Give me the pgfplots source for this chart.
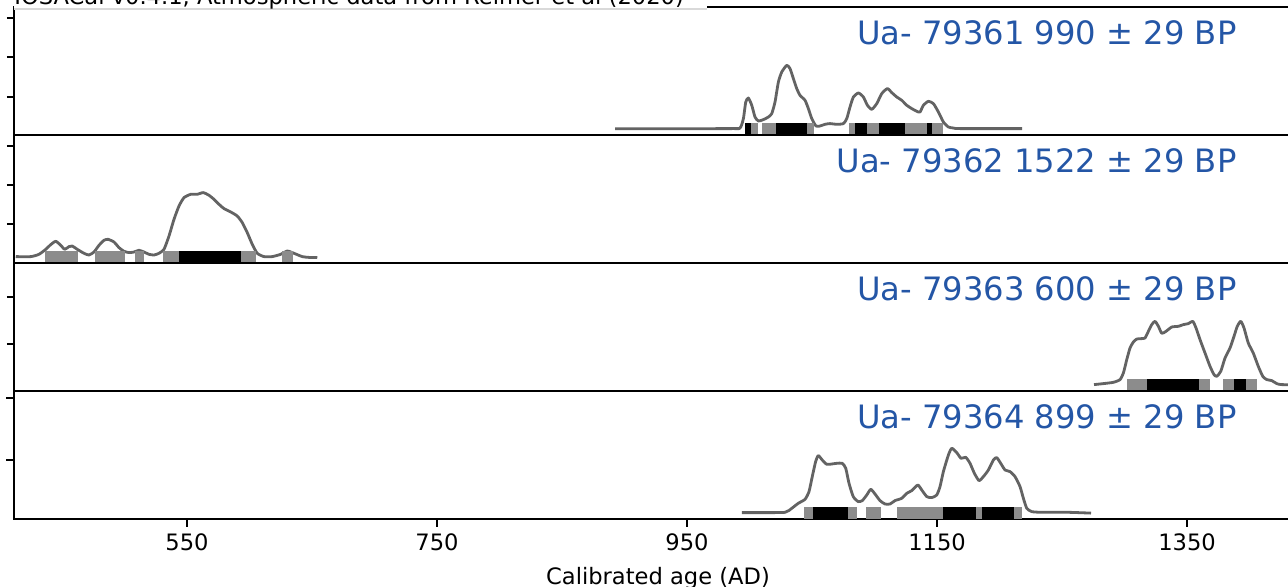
\documentclass[border=0pt]{standalone}
\usepackage{pgfplots}
\pgfplotsset{compat=1.18}
\usepackage{fontspec}
\setmainfont{DejaVu Sans}
\definecolor{curvegray}{RGB}{99,99,99}
\definecolor{rnggray}{RGB}{140,140,140}
\definecolor{labblue}{RGB}{36,86,166}
\newcommand{\rng}[3]{\addplot[fill=#3, draw=none, forget plot] coordinates {(#1,12) (#2,12)} \closedcycle;}
\newcommand{\panellabel}[1]{\node[anchor=base east, inner sep=0pt, text=labblue, font=\fontsize{16.1}{19}\selectfont] at (axis description cs:0.9495,0.711) {#1};}
\pgfplotsset{
  panel/.style={
    scale only axis, width=644pt, height=64pt,
    xmin=411.6, xmax=1442, ymin=0, ymax=128,
    axis line style={line width=0.9pt},
    tick align=outside,
    major tick length=3.5pt,
    tick style={line width=0.9pt, black},
    ytick pos=left, xtick pos=bottom,
    yticklabels={}, xtick=\empty,
    clip=true,
  },
  curve/.style={curvegray, line width=1.4pt, smooth, tension=0.35, line join=round, no marks},
}
\begin{document}
\begin{tikzpicture}
% ---------------- panel 1
\begin{axis}[panel, at={(7pt,225.35pt)}, anchor=south west, ytick={38.6,78,117}]
\addplot[curve] table {
892.4 6.5
984.4 6.7
992.4 7.3
995.1 16.7
997.0 33.3
999.1 37.3
1001.8 30
1004.4 18.3
1007.1 14.3
1011.1 15.7
1015.1 18.3
1017.8 21.7
1020.4 33.3
1023.1 53.3
1025.8 63.3
1029.8 70
1032.4 66.7
1035.1 56.7
1037.8 46.7
1040.4 40
1044.4 35
1047.1 26.7
1049.8 16.7
1053.2 9.3
1056.4 9.3
1060.4 11
1064.4 11.7
1069.8 11
1075.1 11.7
1077.8 16.7
1080.4 28.3
1083.1 38.3
1087.1 42.3
1091.1 38.3
1094.3 30
1097.8 26
1101.8 31.7
1105.8 41.7
1110.3 46.7
1113.8 42.7
1117.8 38.3
1121.8 35
1125.8 30
1129.8 26.7
1133.8 24
1136.4 23.3
1139.1 30
1143.1 34
1147.1 31.7
1151.1 23.3
1155.1 13.3
1159.1 8.3
1163.1 7.3
1168.4 6.7
1218.0 6.7
};
\rng{996.2}{1006.8}{rnggray}
\rng{1009.6}{1051.4}{rnggray}
\rng{1079.4}{1154.9}{rnggray}
\rng{996.2}{1000.8}{black}
\rng{1020.8}{1046.1}{black}
\rng{1084.0}{1093.8}{black}
\rng{1103.3}{1124.4}{black}
\rng{1141.9}{1146.2}{black}
\panellabel{Ua- 79361 990 ± 29 BP}
\end{axis}
% ---------------- panel 2
\begin{axis}[panel, at={(7pt,161.35pt)}, anchor=south west, ytick={39,78.3,117.6}]
\addplot[curve] table {
413.0 6.7
425.0 6.7
431.6 9
437.0 14
441.0 18.7
445.0 22
449.0 18
452.2 14
455.6 16.7
458.2 17.3
462.2 14
467.6 10
471.6 8.3
475.6 11.3
479.6 18
483.6 23
486.8 24
491.6 21.3
495.6 15.7
499.6 12
503.6 10.7
507.6 11.3
511.6 13
515.6 11.3
519.6 9
523.6 8.3
527.6 10
531.6 14
535.6 27.3
539.6 44
543.6 57.3
547.6 65.7
553.0 69
558.2 69
563.0 70.7
567.6 68
571.6 64
575.6 59
579.6 54.7
585.0 51.3
590.2 47.3
594.2 40.7
598.2 30.7
602.2 19
606.2 10
611.6 6.7
618.2 6.7
625.0 9
630.2 12.3
635.6 10
642.2 6.7
647.6 5.9
654.2 5.7
};
\rng{436.2}{462.8}{rnggray}
\rng{476.4}{500.2}{rnggray}
\rng{508.2}{515.6}{rnggray}
\rng{530.8}{605.0}{rnggray}
\rng{626.2}{634.8}{rnggray}
\rng{543.6}{593.0}{black}
\panellabel{Ua- 79362 1522 ± 29 BP}
\end{axis}
% ---------------- panel 3
\begin{axis}[panel, at={(7pt,97.35pt)}, anchor=south west, ytick={47.3,94.3}]
\addplot[curve] table {
1275.6 6.7
1283.1 7.7
1291.1 9
1296.4 11.7
1299.1 18.3
1301.8 31.7
1304.4 43.3
1307.1 49.3
1309.8 52.3
1313.8 52.7
1316.4 53.3
1319.1 60
1321.8 66.7
1324.4 70
1327.1 65
1329.8 58
1333.2 60
1337.8 64.3
1343.1 65
1347.1 66.7
1351.1 67.7
1354.6 70
1357.2 63.3
1360.4 51.7
1364.4 38.3
1368.4 25
1371.6 16.7
1373.8 15
1377.0 20
1380.4 33.3
1384.4 43.3
1387.6 55
1390.2 65
1393.0 70
1395.6 63.3
1399.0 48.3
1403.0 38.3
1407.0 25
1410.6 15
1413.8 11.7
1417.8 10.7
1421.8 7.7
1425.8 6.7
1445.0 6.5
};
\rng{1301.8}{1368.4}{rnggray}
\rng{1379.0}{1405.6}{rnggray}
\rng{1318.2}{1359.8}{black}
\rng{1387.6}{1396.8}{black}
\panellabel{Ua- 79363 600 ± 29 BP}
\end{axis}
% ---------------- panel 4
\begin{axis}[panel, at={(7pt,33.35pt)}, anchor=south west, ytick={59.3,121.3},
  xtick={550,750,950,1150,1350}, xticklabels={550,750,950,1150,1350},
  major tick length=3.8pt,
  ticklabel style={font=\fontsize{11.3}{13}\selectfont},
  xlabel={Calibrated age (AD)},
  xlabel style={font=\fontsize{11.3}{13}\selectfont, at={(axis description cs:0.5,0)}, anchor=base, yshift=-32.6pt}]
\addplot[curve] table {
993.8 6.7
1009.8 6.7
1028.4 7
1033.8 11
1039.0 16
1044.4 20
1047.6 27.7
1050.2 42.7
1052.9 57.7
1055.0 63.7
1058.2 59.3
1061.8 55
1065.8 55.3
1069.8 56
1074.2 56
1077.0 51
1079.6 36
1083.0 22.7
1087.0 17.7
1090.2 18.7
1093.8 24.3
1097.0 30
1100.4 25.3
1104.4 18.7
1108.4 15.3
1112.4 15.3
1116.4 18.7
1121.8 21
1125.8 26
1129.8 28.7
1134.6 34.3
1137.8 29.3
1141.8 22.7
1145.8 21.7
1149.8 24.3
1152.4 32.7
1155.1 47.7
1159.1 64.3
1161.8 71
1165.8 66.7
1169.2 61
1173.0 62
1176.4 56
1179.9 46
1183.6 38.7
1187.1 42.7
1191.1 49.3
1195.1 59.3
1197.8 61.7
1201.8 54.3
1204.4 49.3
1208.4 47.7
1212.4 42.7
1216.4 32.7
1219.1 21
1221.8 11
1225.8 7.7
1233.8 7
1255.0 7
1273.2 6.2
};
\rng{1043.8}{1085.8}{rnggray}
\rng{1093.0}{1105.0}{rnggray}
\rng{1118.2}{1217.8}{rnggray}
\rng{1051.0}{1079.0}{black}
\rng{1155.0}{1181.0}{black}
\rng{1185.8}{1211.8}{black}
\panellabel{Ua- 79364 899 ± 29 BP}
\end{axis}
% ---------------- title (cropped at the top, as in the reference)
\fill[white] (7pt,288.5pt) rectangle (353.5pt,300pt);
\draw[gray!30, line width=0.6pt] (7pt,288.5pt) -- (353.5pt,288.5pt);
\node[anchor=base west, inner sep=0pt, font=\fontsize{11.3}{13}\selectfont] at (7pt,290.75pt) {IOSACal v0.4.1, Atmospheric data from Reimer et al (2020)};
\pgfresetboundingbox
\useasboundingbox (0,0) rectangle (644pt,293pt);
\end{tikzpicture}
\end{document}
